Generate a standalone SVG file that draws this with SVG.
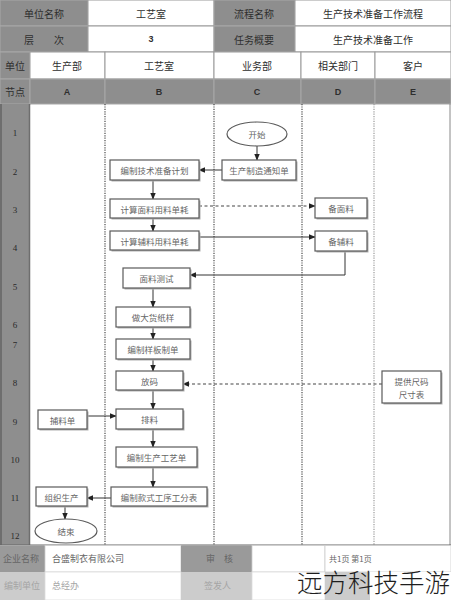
<svg xmlns="http://www.w3.org/2000/svg" width="451" height="600" viewBox="0 0 451 600">
<style>
.g{fill:#8e8e8e;stroke:#a8a8a8;stroke-width:1}
.w{fill:#fff;stroke:#9a9a9a;stroke-width:1}
.lg{fill:#c9c9c9;stroke:#bdbdbd;stroke-width:1}
.ht{font-family:"Noto Sans CJK SC","Liberation Sans",sans-serif;font-size:10px;fill:#2e2e2e;text-anchor:middle;dominant-baseline:central}
.hb{font-family:"Liberation Sans","Noto Sans CJK SC",sans-serif;font-size:9px;font-weight:bold;fill:#2e2e2e;text-anchor:middle;dominant-baseline:central}
.num{font-family:"Liberation Serif",serif;font-size:9px;fill:#2a2a2a;text-anchor:middle;dominant-baseline:central}
.box{fill:#fff;stroke:#5a5a5a;stroke-width:1.2}
.sh{fill:#b0b0b0}
.nt{font-family:"Noto Sans CJK SC","Liberation Serif",sans-serif;font-size:8.5px;fill:#666;text-anchor:middle;dominant-baseline:central}
.lane{stroke:#4a4a4a;stroke-width:1.2;stroke-dasharray:1.2 1.2;fill:none}
.c{stroke:#333;stroke-width:1;fill:none;marker-end:url(#ah)}
.d{stroke:#444;stroke-width:1.2;stroke-dasharray:3 2.5;fill:none;marker-end:url(#ah)}
.ft{font-family:"Noto Sans CJK SC","Liberation Serif",sans-serif;font-size:9px;fill:#666;dominant-baseline:central}
.fl{font-family:"Noto Sans CJK SC","Liberation Serif",sans-serif;font-size:9px;fill:#a5a5a5;dominant-baseline:central}
</style>
<defs>
<marker id="ah" viewBox="0 0 10 10" refX="9" refY="5" markerWidth="7" markerHeight="7" markerUnits="userSpaceOnUse" orient="auto">
<path d="M0,1 L10,5 L0,9 Z" fill="#222"/>
</marker>
</defs>
<rect x="0" y="0" width="451" height="600" fill="#fff"/>

<g id="header">
<rect class="g" x="0" y="0" width="88" height="26"/>
<rect class="w" x="88" y="0" width="126" height="26"/>
<rect class="g" x="214" y="0" width="81" height="26"/>
<rect class="w" x="295" y="0" width="156" height="26"/>
<text class="ht" x="44" y="13">单位名称</text>
<text class="ht" x="151" y="13">工艺室</text>
<text class="ht" x="254" y="13">流程名称</text>
<text class="ht" x="373" y="13">生产技术准备工作流程</text>

<rect class="g" x="0" y="26" width="88" height="26"/>
<rect class="w" x="88" y="26" width="126" height="26"/>
<rect class="g" x="214" y="26" width="81" height="26"/>
<rect class="w" x="295" y="26" width="156" height="26"/>
<text class="ht" x="44" y="39">层　　次</text>
<text class="hb" x="151" y="39">3</text>
<text class="ht" x="254" y="39">任务概要</text>
<text class="ht" x="373" y="39">生产技术准备工作</text>

<rect class="g" x="0" y="52" width="30" height="27"/>
<rect class="w" x="30" y="52" width="75" height="27"/>
<rect class="w" x="105" y="52" width="109" height="27"/>
<rect class="w" x="214" y="52" width="87" height="27"/>
<rect class="w" x="301" y="52" width="74" height="27"/>
<rect class="w" x="375" y="52" width="76" height="27"/>
<text class="ht" x="15" y="65.5">单位</text>
<text class="ht" x="67" y="65.5">生产部</text>
<text class="ht" x="159" y="65.5">工艺室</text>
<text class="ht" x="257" y="65.5">业务部</text>
<text class="ht" x="338" y="65.5">相关部门</text>
<text class="ht" x="413" y="65.5">客户</text>

<rect class="g" x="0" y="79" width="30" height="25"/>
<rect class="g" x="30" y="79" width="75" height="25"/>
<rect class="g" x="105" y="79" width="109" height="25"/>
<rect class="g" x="214" y="79" width="87" height="25"/>
<rect class="g" x="301" y="79" width="74" height="25"/>
<rect class="g" x="375" y="79" width="76" height="25"/>
<text class="ht" x="15" y="91.5">节点</text>
<text class="hb" x="67" y="91.5">A</text>
<text class="hb" x="159" y="91.5">B</text>
<text class="hb" x="257" y="91.5">C</text>
<text class="hb" x="338" y="91.5">D</text>
<text class="hb" x="413" y="91.5">E</text>
</g>

<g id="body-frame">
<rect x="0" y="104" width="30" height="441" fill="#8e8e8e"/>
<line x1="1" y1="104" x2="1" y2="545" stroke="#6e6e6e" stroke-width="2"/>
<line x1="29.5" y1="104" x2="29.5" y2="545" stroke="#6e6e6e" stroke-width="1.5"/>
<line x1="450" y1="104" x2="450" y2="545" stroke="#888" stroke-width="1"/>
<text class="num" x="15" y="133">1</text>
<text class="num" x="15" y="172">2</text>
<text class="num" x="15" y="210">3</text>
<text class="num" x="15" y="248">4</text>
<text class="num" x="15" y="287">5</text>
<text class="num" x="15" y="325">6</text>
<text class="num" x="15" y="345">7</text>
<text class="num" x="15" y="383">8</text>
<text class="num" x="15" y="422">9</text>
<text class="num" x="15" y="460">10</text>
<text class="num" x="15" y="498">11</text>
<text class="num" x="15" y="536">12</text>
<line class="lane" x1="105" y1="104" x2="105" y2="545"/>
<line class="lane" x1="214" y1="104" x2="214" y2="545"/>
<line class="lane" x1="302" y1="104" x2="302" y2="545"/>
<line class="lane" x1="374" y1="104" x2="374" y2="545" style="stroke:#9a9a9a"/>
</g>

<g id="connectors">
<line class="c" x1="257" y1="146" x2="257" y2="160"/>
<line class="c" x1="222" y1="170" x2="199" y2="170"/>
<line class="c" x1="153" y1="179" x2="153" y2="199"/>
<line class="c" x1="153" y1="217" x2="153" y2="231"/>
<line class="d" x1="199" y1="206" x2="315" y2="206"/>
<line class="c" x1="199" y1="237" x2="315" y2="237"/>
<polyline class="c" points="345,251 345,275 190,275"/>
<line class="c" x1="153" y1="288" x2="153" y2="307"/>
<line class="c" x1="153" y1="327" x2="153" y2="339"/>
<line class="c" x1="153" y1="359" x2="153" y2="371"/>
<line class="d" x1="382" y1="384" x2="183" y2="384"/>
<line class="c" x1="153" y1="390" x2="153" y2="409"/>
<line class="c" x1="87" y1="416" x2="116" y2="416"/>
<line class="c" x1="153" y1="429" x2="153" y2="447"/>
<line class="c" x1="153" y1="467" x2="153" y2="487"/>
<line class="c" x1="111" y1="498" x2="87" y2="498"/>
<line class="c" x1="65" y1="506" x2="65" y2="519"/>
</g>

<g id="n-start">
<ellipse cx="257" cy="134" rx="30" ry="12" fill="#fff" stroke="#5a5a5a" stroke-width="1.2"/>
<text class="nt" x="257" y="134">开始</text>
</g>
<g id="n-notice">
<rect class="sh" x="223.5" y="161.5" width="74" height="20"/>
<rect class="box" x="222" y="160" width="74" height="20"/>
<text class="nt" x="259" y="170">生产制造通知单</text>
</g>
<g id="n-plan">
<rect class="sh" x="111.5" y="161.5" width="89" height="20"/>
<rect class="box" x="110" y="160" width="89" height="20"/>
<text class="nt" x="154.5" y="170">编制技术准备计划</text>
</g>
<g id="n-fabric-calc">
<rect class="sh" x="111.5" y="200.5" width="89" height="19"/>
<rect class="box" x="110" y="199" width="89" height="19"/>
<text class="nt" x="154.5" y="208.5">计算面料用料单耗</text>
</g>
<g id="n-acc-calc">
<rect class="sh" x="111.5" y="232.5" width="89" height="19"/>
<rect class="box" x="110" y="231" width="89" height="19"/>
<text class="nt" x="154.5" y="240.5">计算辅料用料单耗</text>
</g>
<g id="n-fabric-prep">
<rect class="sh" x="316.5" y="199.5" width="52" height="20"/>
<rect class="box" x="315" y="198" width="52" height="20"/>
<text class="nt" x="341" y="208">备面料</text>
</g>
<g id="n-acc-prep">
<rect class="sh" x="316.5" y="232.5" width="52" height="20"/>
<rect class="box" x="315" y="231" width="52" height="20"/>
<text class="nt" x="341" y="241">备辅料</text>
</g>
<g id="n-fabric-test">
<rect class="sh" x="124.5" y="269.5" width="67" height="20"/>
<rect class="box" x="123" y="268" width="67" height="20"/>
<text class="nt" x="156.5" y="278">面料测试</text>
</g>
<g id="n-pattern">
<rect class="sh" x="117.5" y="308.5" width="74" height="20"/>
<rect class="box" x="116" y="307" width="74" height="20"/>
<text class="nt" x="153" y="317">做大货纸样</text>
</g>
<g id="n-sample-sheet">
<rect class="sh" x="117.5" y="340.5" width="74" height="20"/>
<rect class="box" x="116" y="339" width="74" height="20"/>
<text class="nt" x="153" y="349">编制样板制单</text>
</g>
<g id="n-grading">
<rect class="sh" x="117.5" y="372.5" width="67" height="19"/>
<rect class="box" x="116" y="371" width="67" height="19"/>
<text class="nt" x="149.5" y="380.5">放码</text>
</g>
<g id="n-size-chart">
<rect class="sh" x="383.5" y="372.5" width="59" height="32"/>
<rect class="box" x="382" y="371" width="59" height="32"/>
<text class="nt" x="411.5" y="381">提供尺码</text>
<text class="nt" x="411.5" y="394">尺寸表</text>
</g>
<g id="n-marker">
<rect class="sh" x="117.5" y="410.5" width="67" height="20"/>
<rect class="box" x="116" y="409" width="67" height="20"/>
<text class="nt" x="149.5" y="419">排料</text>
</g>
<g id="n-supp">
<rect class="sh" x="39.5" y="411.5" width="49" height="19"/>
<rect class="box" x="38" y="410" width="49" height="19"/>
<text class="nt" x="62.5" y="419.5">捕料单</text>
</g>
<g id="n-process-sheet">
<rect class="sh" x="117.5" y="448.5" width="81" height="20"/>
<rect class="box" x="116" y="447" width="81" height="20"/>
<text class="nt" x="156.5" y="457">编制生产工艺单</text>
</g>
<g id="n-op-table">
<rect class="sh" x="112.5" y="488.5" width="96" height="19"/>
<rect class="box" x="111" y="487" width="96" height="19"/>
<text class="nt" x="159" y="496.5">编制款式工序工分表</text>
</g>
<g id="n-produce">
<rect class="sh" x="37.5" y="488.5" width="51" height="19"/>
<rect class="box" x="36" y="487" width="51" height="19"/>
<text class="nt" x="61.5" y="496.5">组织生产</text>
</g>
<g id="n-end">
<ellipse cx="66" cy="531" rx="31" ry="12" fill="#fff" stroke="#5a5a5a" stroke-width="1.2"/>
<text class="nt" x="66" y="531">结束</text>
</g>

<g id="footer">
<line x1="0" y1="545" x2="451" y2="545" stroke="#666" stroke-width="1"/>
<rect x="0" y="545.5" width="45" height="26.5" fill="#9a9a9a"/>
<rect x="45" y="545.5" width="136" height="26.5" fill="#fff" stroke="#ccc" stroke-width="0.8"/>
<rect x="181" y="545.5" width="71" height="26.5" fill="#9a9a9a"/>
<rect x="252" y="545.5" width="73" height="26.5" fill="#fff" stroke="#ccc" stroke-width="0.8"/>
<rect x="325" y="545.5" width="126" height="26.5" fill="#fff" stroke="#ccc" stroke-width="0.8"/>
<text class="ft" x="3" y="558">企业名称</text>
<text class="ft" x="52" y="558">合盛制衣有限公司</text>
<text class="ft" x="206" y="558">审　核</text>
<text class="ft" x="329" y="558" style="font-size:8px">共1页 第1页</text>
<rect x="0" y="572" width="45" height="28" fill="#cccccc"/>
<rect x="45" y="572" width="136" height="28" fill="#fff" stroke="#ddd" stroke-width="0.8"/>
<rect x="181" y="572" width="71" height="28" fill="#cccccc"/>
<rect x="252" y="572" width="73" height="28" fill="#fff" stroke="#ddd" stroke-width="0.8"/>
<rect x="325" y="572" width="45" height="28" fill="#cccccc"/>
<rect x="370" y="572" width="81" height="28" fill="#fff"/>
<text class="fl" x="4" y="585">编制单位</text>
<text class="fl" x="52" y="585">总经办</text>
<text class="fl" x="204" y="585">签发人</text>
</g>

<g id="watermark">
<text x="297" y="592" font-family="'Noto Sans CJK SC',sans-serif" font-size="25.5" font-weight="300" fill="#1e1e1e">远方科技手游</text>
</g>
</svg>
